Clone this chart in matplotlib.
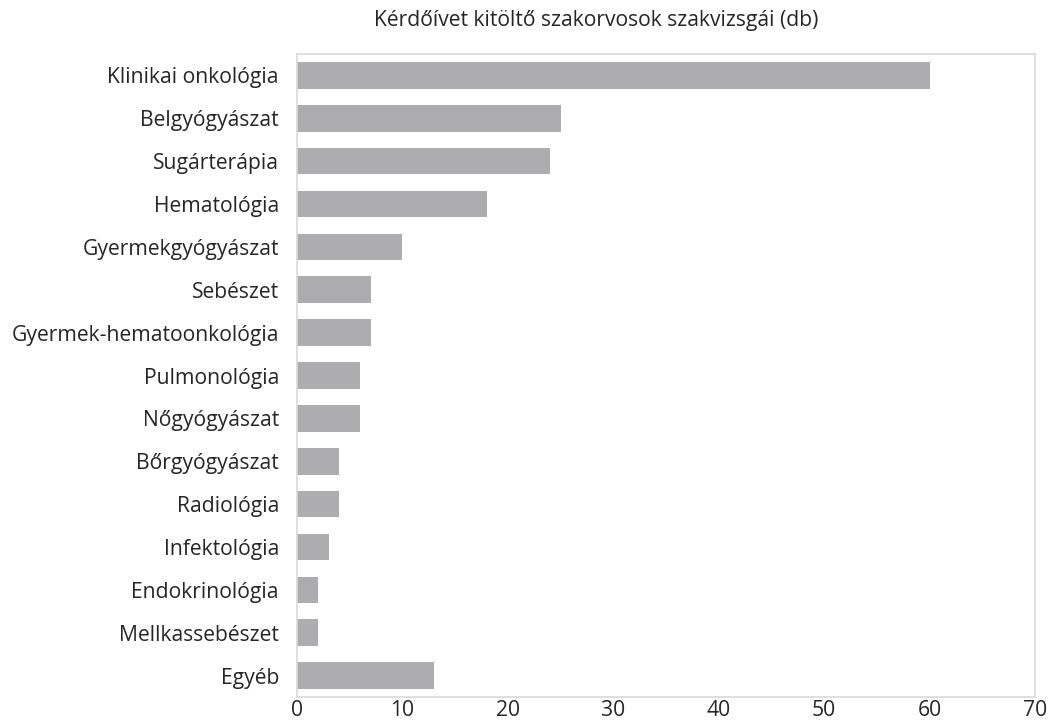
import matplotlib
matplotlib.use('Agg')
from matplotlib import pyplot as plt

categories = [
    'Klinikai onkológia', 'Belgyógyászat', 'Sugárterápia', 'Hematológia',
    'Gyermekgyógyászat', 'Sebészet', 'Gyermek-hematoonkológia', 'Pulmonológia',
    'Nőgyógyászat', 'Bőrgyógyászat', 'Radiológia', 'Infektológia',
    'Endokrinológia', 'Mellkassebészet', 'Egyéb',
]
values = [60, 25, 24, 18, 10, 7, 7, 6, 6, 4, 4, 3, 2, 2, 13]
xticks = [0, 10, 20, 30, 40, 50, 60, 70]
title = 'Kérdőívet kitöltő szakorvosok szakvizsgái (db)'

plt.rcParams['font.family'] = ['Open Sans', 'DejaVu Sans']
fs = 15.2

fig = plt.figure(figsize=(10.49, 7.24), dpi=100)
ax = fig.add_axes([0.2831, 0.0373, 0.7035, 0.8881])

pos = list(range(len(categories)))
ax.barh(pos, values, height=0.62, color='#adadb0')
ax.set_yticks(pos)
ax.set_yticklabels(categories, fontsize=fs, color='#262626')
ax.set_ylim(len(categories) - 0.5, -0.5)
ax.set_xlim(0, 70)
ax.set_xticks(xticks)
ax.set_xticklabels([str(t) for t in xticks], fontsize=fs, color='#262626')
ax.tick_params(axis='y', length=0, pad=13)
ax.tick_params(axis='x', length=0, pad=2)
for s in ax.spines.values():
    s.set_color('#d9d9d9')
    s.set_linewidth(1.2)

fig.text(0.568, 0.972, title, ha='center', va='center', fontsize=fs, color='#262626')

fig.savefig('out.png', dpi=100)
